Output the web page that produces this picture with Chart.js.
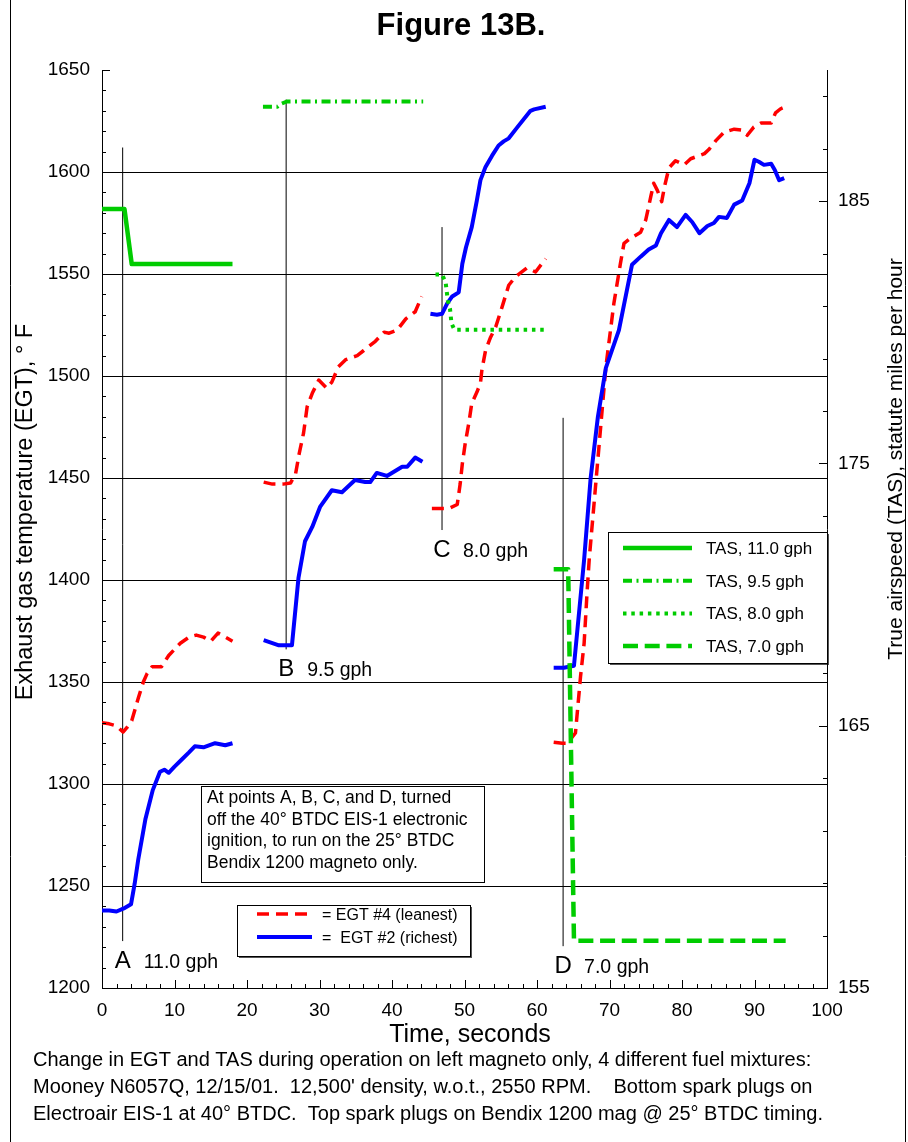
<!DOCTYPE html>
<html>
<head>
<meta charset="utf-8">
<script src="https://cdn.jsdelivr.net/npm/chart.js@4.4.1/dist/chart.umd.min.js"></script>
<style>
  body { margin: 0; background: #fff; }
  canvas { display: block; }
</style>
</head>
<body>
<canvas id="fig13b" width="908" height="1142"></canvas>
<script>
const FONT = "'Liberation Sans', Arial, sans-serif";

// EGT #4 (leanest), deg F, one run per fuel flow
const egt4A_t = [0, 1, 2, 2.9, 3.4, 4.1, 5, 5.7, 6.2, 6.9, 8.2, 9.2, 10.8, 12, 13, 14, 15, 16, 17, 18];
const egt4A = [1330, 1329.5, 1328.5, 1325.5, 1327.5, 1331, 1342, 1350, 1354, 1357.5, 1357.5, 1363, 1369, 1372, 1373, 1372, 1370, 1374, 1372, 1370];
const egt4B_t = [22.3, 23.5, 25, 26, 26.7, 27.2, 27.8, 28.3, 29, 29.9, 31, 31.7, 32.6, 33.6, 35.2, 36.1, 37.7, 38.9, 39.6, 40.7, 41.9, 43.2, 44.1];
const egt4B = [1448, 1447, 1447, 1447.5, 1452, 1462, 1472, 1485, 1491.5, 1498, 1494, 1497, 1504.5, 1508, 1510, 1512.5, 1517, 1521.5, 1521, 1522.5, 1528, 1531.5, 1539];
const egt4C_t = [45.5, 47.8, 49, 49.4, 49.7, 50.1, 50.6, 51, 51.7, 52.2, 52.4, 52.9, 53.6, 54.3, 55.2, 56.1, 57, 58.6, 59.8, 61.2];
const egt4C = [1435, 1435, 1437, 1447, 1457, 1467, 1477, 1486.5, 1492, 1496.5, 1503, 1512.5, 1519, 1524, 1534, 1544.5, 1548.5, 1553, 1551, 1557.5];
const egt4D_t = [62.3, 63.5, 64.2, 65.3, 65.8, 66, 66.5, 66.9, 67.2, 69.5, 70.6, 71.5, 72, 72.9, 74.3, 75, 75.7, 76.1, 76.6, 77.2, 77.6, 78.2, 79.1, 80.3, 81.2, 83.1, 83.7, 84.7, 85.8, 87.2, 88.3, 89, 89.9, 90.9, 92.3, 92.9, 93.6, 94.3];
const egt4D = [1320.5, 1320, 1320, 1325, 1344.5, 1352.5, 1369, 1393.5, 1410, 1504.5, 1535.5, 1555, 1565, 1567.5, 1570.5, 1576.5, 1588, 1594.5, 1591, 1585.5, 1593, 1602, 1605.5, 1603.5, 1606.5, 1609, 1611, 1615.5, 1619.5, 1621, 1620.5, 1618, 1622, 1624, 1624, 1629, 1631, 1632];

// EGT #2 (richest), deg F
const egt2A_t = [0, 1, 2, 3, 4, 4.5, 5, 6, 7, 8, 8.6, 9.2, 10, 11, 12, 12.8, 14, 15.6, 17, 18];
const egt2A = [1238, 1238, 1237.5, 1239, 1241, 1251, 1263, 1283, 1297, 1306, 1307, 1305.5, 1308.5, 1312, 1315.5, 1318.5, 1318, 1320, 1319, 1320];
const egt2B_t = [22.3, 24.4, 26.2, 27.1, 28, 29, 30.1, 31.7, 33.1, 34.9, 36.3, 37, 37.9, 39.3, 41.4, 42.1, 43.2, 44.2];
const egt2B = [1370.5, 1368, 1368, 1401, 1419, 1426, 1436, 1444, 1443, 1449, 1448, 1448, 1452.5, 1451, 1455.5, 1455.5, 1460, 1458];
const egt2C_t = [45.3, 46.2, 46.9, 47.6, 48.3, 49.2, 49.7, 50.2, 51, 51.7, 52.2, 52.9, 53.8, 54.7, 55.4, 56.1, 57.3, 59.1, 59.6, 61.2];
const egt2C = [1530.5, 1530, 1530.5, 1535.5, 1539, 1541, 1555, 1563, 1573, 1586, 1596, 1602.5, 1608, 1613, 1615, 1616.5, 1622, 1630, 1630.7, 1632];
const egt2D_t = [62.3, 63.7, 65.1, 66.5, 67.4, 68.4, 69.5, 71.3, 73.1, 74.3, 75.4, 76.4, 77.1, 78.2, 79.3, 80.5, 81.4, 82.4, 83.5, 84.4, 85.1, 86.2, 87.2, 88.3, 89.3, 90, 90.6, 91.3, 92.3, 92.8, 93.4, 94.1];
const egt2D = [1357, 1357, 1358, 1410, 1450, 1480, 1504, 1522.5, 1554.5, 1558.5, 1562, 1564, 1570, 1576.5, 1573, 1579, 1575.5, 1570, 1573.5, 1575, 1578, 1577.5, 1584, 1586, 1594.5, 1606, 1605, 1603.5, 1604, 1601, 1596, 1597];

// true airspeed, mph (right axis)
const tas110_t = [0, 3.1, 4.1, 18];
const tas110 = [184.7, 184.7, 182.6, 182.6];
const tas95_t = [22.2, 24.2, 24.8, 25.5, 44.3];
const tas95 = [188.6, 188.6, 188.72, 188.8, 188.8];
const tas80_t = [46, 46.9, 47.4, 47.7, 48, 48.2, 48.6, 61.2];
const tas80 = [182.2, 182.2, 181.9, 181.2, 180.9, 180.35, 180.1, 180.1];
const tas70_t = [62.3, 64.3, 65.1, 94.3];
const tas70 = [170.97, 170.97, 156.8, 156.8];

// points A-D where the electronic ignition was switched off
const markLetter = ['A', 'B', 'C', 'D'];
const markFuel = ['11.0 gph', '9.5 gph', '8.0 gph', '7.0 gph'];
const markTime = [2.85, 25.4, 46.9, 63.6];
const markTop = [1612, 1635.5, 1573, 1479.5];
const markBottom = [1223, 1366, 1424.5, 1220.5];

// axis ticks
const timeTicks = [0, 10, 20, 30, 40, 50, 60, 70, 80, 90, 100];
const egtTicks = [1200, 1250, 1300, 1350, 1400, 1450, 1500, 1550, 1600, 1650];
const tasTicks = [155, 165, 175, 185];
const timeMinorStep = 2, egtMinorStep = 10, tasMinorStep = 2;

const RED = '#ff0000', BLUE = '#0000ff', GREEN = '#00cc00';
const st = {
  egt4: { borderColor: RED, borderWidth: 3.5, borderDash: [12, 7] },
  egt2: { borderColor: BLUE, borderWidth: 4, borderDash: [] },
  tas110: { borderColor: GREEN, borderWidth: 4.5, borderDash: [] },
  tas95: { borderColor: GREEN, borderWidth: 4, borderDash: [9, 4.5, 2, 4.5] },
  tas80: { borderColor: GREEN, borderWidth: 4, borderDash: [3.5, 4.8] },
  tas70: { borderColor: GREEN, borderWidth: 4.5, borderDash: [15, 6.7] }
};

function series(label, t, v, axis, style) {
  return Object.assign({
    label: label,
    data: t.map((x, i) => ({ x: x, y: v[i] })),
    yAxisID: axis,
    pointRadius: 0,
    tension: 0,
    fill: false,
    borderJoinStyle: 'round'
  }, style);
}

const datasets = [
  series('TAS, 11.0 gph', tas110_t, tas110, 'y2', st.tas110),
  series('TAS, 9.5 gph', tas95_t, tas95, 'y2', st.tas95),
  series('TAS, 8.0 gph', tas80_t, tas80, 'y2', st.tas80),
  series('TAS, 7.0 gph', tas70_t, tas70, 'y2', st.tas70),
  series('EGT #2 A', egt2A_t, egt2A, 'y', st.egt2),
  series('EGT #2 B', egt2B_t, egt2B, 'y', st.egt2),
  series('EGT #2 C', egt2C_t, egt2C, 'y', st.egt2),
  series('EGT #2 D', egt2D_t, egt2D, 'y', st.egt2),
  series('EGT #4 A', egt4A_t, egt4A, 'y', st.egt4),
  series('EGT #4 B', egt4B_t, egt4B, 'y', st.egt4),
  series('EGT #4 C', egt4C_t, egt4C, 'y', st.egt4),
  series('EGT #4 D', egt4D_t, egt4D, 'y', st.egt4)
];
markTime.forEach((t, i) => {
  datasets.push(series('mark ' + markLetter[i], [t, t], [markBottom[i], markTop[i]], 'y',
    { borderColor: '#000', borderWidth: 1, borderDash: [] }));
});

function sample(ctx, x0, x1, y, style) {
  ctx.save();
  ctx.strokeStyle = style.borderColor;
  ctx.lineWidth = style.borderWidth;
  ctx.setLineDash(style.borderDash);
  ctx.beginPath();
  ctx.moveTo(x0, y);
  ctx.lineTo(x1, y);
  ctx.stroke();
  ctx.restore();
}

function box(ctx, x, y, w, h, shadow) {
  if (shadow) {
    ctx.fillStyle = '#555';
    ctx.fillRect(x + 2, y + 2, w, h);
  }
  ctx.fillStyle = '#fff';
  ctx.fillRect(x, y, w, h);
  ctx.strokeStyle = '#000';
  ctx.lineWidth = 1;
  ctx.strokeRect(x + 0.5, y + 0.5, w, h);
}

const figurePlugin = {
  id: 'figureText',
  afterDraw(chart) {
    const ctx = chart.ctx, ca = chart.chartArea, s = chart.scales;
    ctx.save();

    // figure frame
    ctx.strokeStyle = '#000';
    ctx.lineWidth = 1;
    ctx.beginPath();
    ctx.moveTo(10.5, 0); ctx.lineTo(10.5, 1142);
    ctx.moveTo(905.5, 0); ctx.lineTo(905.5, 1142);
    ctx.stroke();

    // minor / major tick marks, inside the plot
    ctx.beginPath();
    for (let v = egtTicks[0]; v <= egtTicks[egtTicks.length - 1]; v += egtMinorStep) {
      const y = Math.round(s.y.getPixelForValue(v)) + 0.5;
      const len = egtTicks.includes(v) ? 8 : 4;
      ctx.moveTo(ca.left, y); ctx.lineTo(ca.left + len, y);
    }
    for (let v = s.y2.min; v < s.y2.max; v += tasMinorStep) {
      const y = Math.round(s.y2.getPixelForValue(v)) + 0.5;
      const len = tasTicks.includes(v) ? 8 : 4;
      ctx.moveTo(ca.right, y); ctx.lineTo(ca.right - len, y);
    }
    for (let v = 0; v <= 100; v += timeMinorStep) {
      const x = Math.round(s.x.getPixelForValue(v)) + 0.5;
      const len = timeTicks.includes(v) ? 8 : 4;
      ctx.moveTo(x, ca.bottom); ctx.lineTo(x, ca.bottom - len);
    }
    ctx.stroke();

    ctx.fillStyle = '#000';
    // title
    ctx.font = 'bold 31px ' + FONT;
    ctx.textAlign = 'center';
    ctx.textBaseline = 'alphabetic';
    ctx.fillText('Figure 13B.', 461, 35);

    // axis titles
    ctx.font = '25px ' + FONT;
    ctx.fillText('Time, seconds', 470, 1042);
    ctx.save();
    ctx.font = '23.5px ' + FONT;
    ctx.translate(26, 512);
    ctx.rotate(-Math.PI / 2);
    ctx.textBaseline = 'middle';
    ctx.fillText('Exhaust gas temperature (EGT), \u00b0 F', 0, 0);
    ctx.restore();
    ctx.save();
    ctx.font = '21px ' + FONT;
    ctx.translate(896, 459);
    ctx.rotate(-Math.PI / 2);
    ctx.textBaseline = 'middle';
    ctx.fillText('True airspeed (TAS), statute miles per hour', 0, 0);
    ctx.restore();

    // caption
    ctx.textAlign = 'left';
    ctx.font = '20px ' + FONT;
    ctx.fillText('Change in EGT and TAS during operation on left magneto only, 4 different fuel mixtures:', 33, 1066);
    ctx.fillText("Mooney N6057Q, 12/15/01.  12,500' density, w.o.t., 2550 RPM.    Bottom spark plugs on", 33, 1093);
    ctx.fillText('Electroair EIS-1 at 40\u00b0 BTDC.  Top spark plugs on Bendix 1200 mag @ 25\u00b0 BTDC timing.', 33, 1120);

    // point labels A-D
    markTime.forEach((t, i) => {
      const x = s.x.getPixelForValue(t);
      const y = s.y.getPixelForValue(markBottom[i]) + 27;
      ctx.font = '24px ' + FONT;
      ctx.textAlign = 'center';
      ctx.fillText(markLetter[i], x, y);
      ctx.font = '19.5px ' + FONT;
      ctx.textAlign = 'left';
      ctx.fillText(markFuel[i], x + 21, y);
    });

    // note box
    box(ctx, 201, 786, 283, 96, false);
    ctx.fillStyle = '#000';
    ctx.font = '17.5px ' + FONT;
    ['At points A, B, C, and D, turned', 'off the 40\u00b0 BTDC EIS-1 electronic',
     'ignition, to run on the 25\u00b0 BTDC', 'Bendix 1200 magneto only.']
      .forEach((line, i) => ctx.fillText(line, 207, 803 + i * 21.7));

    // EGT legend
    box(ctx, 237, 905, 233, 51, true);
    sample(ctx, 257, 312, 914, st.egt4);
    sample(ctx, 257, 312, 937, st.egt2);
    ctx.fillStyle = '#000';
    ctx.font = '16px ' + FONT;
    ctx.fillText('= EGT #4 (leanest)', 322, 920);
    ctx.fillText('=  EGT #2 (richest)', 322, 943);

    // TAS legend
    box(ctx, 608, 532, Math.round(ca.right) - 608, 131, true);
    ctx.fillStyle = '#000';
    ctx.fillRect(Math.round(ca.right), 530, 1, 140);
    const tasKeys = ['tas110', 'tas95', 'tas80', 'tas70'];
    const tasNames = ['TAS, 11.0 gph', 'TAS, 9.5 gph', 'TAS, 8.0 gph', 'TAS, 7.0 gph'];
    ctx.font = '17px ' + FONT;
    tasKeys.forEach((k, i) => {
      const y = 548 + i * 32.7;
      sample(ctx, 623, 692, y, st[k]);
      ctx.fillStyle = '#000';
      ctx.fillText(tasNames[i], 706, y + 6);
    });

    ctx.restore();
  }
};

const tickFont = { family: FONT, size: 19 };
const plain = (v) => String(v);

new Chart(document.getElementById('fig13b'), {
  type: 'line',
  data: { datasets: datasets },
  options: {
    responsive: false,
    animation: false,
    layout: { padding: { top: 70, left: 0, right: 0, bottom: 0 } },
    plugins: { legend: { display: false }, tooltip: { enabled: false } },
    scales: {
      x: {
        type: 'linear',
        min: 0,
        max: 100,
        afterBuildTicks: (sc) => { sc.ticks = timeTicks.map(v => ({ value: v })); },
        afterFit: (sc) => { sc.height = 154; },
        ticks: { color: '#000', font: tickFont, padding: 11, maxRotation: 0, callback: plain },
        grid: { drawOnChartArea: false, drawTicks: false },
        border: { display: true, color: '#000', width: 1 }
      },
      y: {
        position: 'left',
        min: 1200,
        max: 1650,
        afterBuildTicks: (sc) => { sc.ticks = egtTicks.map(v => ({ value: v })); },
        afterFit: (sc) => { sc.width = 102; },
        ticks: { color: '#000', font: tickFont, padding: 12, callback: plain },
        grid: {
          drawTicks: false,
          lineWidth: 1,
          color: (c) => (c.tick && c.tick.value > 1200 && c.tick.value < 1650) ? '#000' : 'rgba(0,0,0,0)'
        },
        border: { display: true, color: '#000', width: 1 }
      },
      y2: {
        position: 'right',
        min: 155,
        max: 190,
        afterBuildTicks: (sc) => { sc.ticks = tasTicks.map(v => ({ value: v })); },
        afterFit: (sc) => { sc.width = 81; },
        ticks: { color: '#000', font: tickFont, padding: 11, callback: plain },
        grid: { drawOnChartArea: false, drawTicks: false },
        border: { display: true, color: '#000', width: 1 }
      }
    }
  },
  plugins: [figurePlugin]
});
</script>
</body>
</html>
